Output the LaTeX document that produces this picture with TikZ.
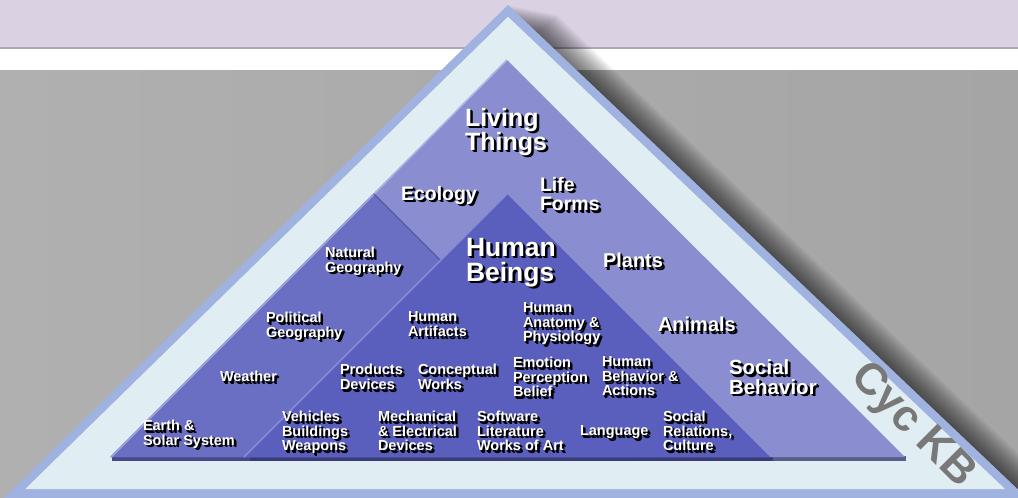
\documentclass[tikz,border=0pt]{standalone}
\usepackage{fontspec}
\setmainfont{Liberation Sans}
\definecolor{lav}{HTML}{DAD2E2}
\definecolor{sepc}{HTML}{AFA6B5}
\definecolor{grayA}{HTML}{B0B0B0}
\definecolor{grayB}{HTML}{A5A5A5}
\definecolor{peri}{HTML}{A0B2E0}
\definecolor{lightb}{HTML}{E0EEF3}
\definecolor{ltc}{HTML}{8A8ED0}
\definecolor{ngc}{HTML}{6B6FC4}
\definecolor{hbc}{HTML}{5A5EBC}
\definecolor{lthl}{HTML}{AEB2E3}
\definecolor{nghl}{HTML}{9CA0DB}
\definecolor{hbhl}{HTML}{858AD4}
\definecolor{ngdk}{HTML}{5457A8}
\definecolor{shNG}{HTML}{46488A}
\definecolor{shHB}{HTML}{3A3C7A}
\definecolor{shLT}{HTML}{5A5C8C}
\definecolor{cycc}{HTML}{787878}
\newcommand\lab[6]{%
  \node[lbl, text=black, xshift=2.6pt, yshift=-2.6pt, font=\bfseries\fontsize{#4}{#5}\selectfont] (#1t) at (#2,#3) {#6};
  \node[lbl, text=black, xshift=1.5pt, yshift=-1.5pt, font=\bfseries\fontsize{#4}{#5}\selectfont] (#1s) at (#2,#3) {#6};
  \node[lbl, text=white, font=\bfseries\fontsize{#4}{#5}\selectfont] (#1) at (#2,#3) {#6};}
\begin{document}
\begin{tikzpicture}[x=1pt,y=-1pt,
  lbl/.style={anchor=north west, inner sep=0pt, outer sep=0pt, align=left}]
\useasboundingbox (0,0) rectangle (1018,498);
\clip (0,0) rectangle (1018,498);
% background bands
\fill[lav] (0,0) rectangle (1018,47);
\fill[sepc] (0,46.5) rectangle (1018,48.5);
\fill[white] (0,48.5) rectangle (1018,70);
\shade[left color=grayA, right color=grayB] (0,70) rectangle (1018,498);
% soft drop shadow of the pyramid (to the right)
\foreach \s in {3,6,...,48}{
  \begin{scope}[shift={(\s,0.2*\s)}]
  \fill[black, opacity=0.045] (508,5)--(-8.4,510)--(1039.6,510)--cycle;
  \end{scope}}
% outer frame
\fill[peri] (508,5)--(-8.4,510)--(1039.6,510)--cycle;
\fill[lightb] (508,16.8)--(25.3,489)--(1005,489)--cycle;
% bottom shadows of the inner pyramids
\fill[shNG] (112,456) rectangle (250,461);
\fill[shHB] (250,456) rectangle (773,461);
\fill[shLT] (773,456) rectangle (906,461);
% pyramids
\fill[ltc] (507,60)--(110,457)--(905,457)--cycle;
\fill[ngc] (374,194)--(111,457)--(637,457)--cycle;
\fill[hbc] (507,194)--(244,457)--(770,457)--cycle;
\draw[lthl, line width=1.6pt] (507,60)--(374,194);
\draw[nghl, line width=2pt] (374,194)--(111,457);
\draw[ngdk, line width=1.2pt] (374,194)--(440.5,260.5);
\draw[hbhl, line width=1.6pt] (507,194)--(244,457);
% labels
\lab{living}{465}{108}{25}{24}{Living\\Things}
\lab{ecology}{401}{186}{19.5}{19.5}{Ecology}
\lab{life}{540}{177}{19.5}{19.5}{Life\\Forms}
\lab{human}{466}{238}{26.5}{25}{Human\\Beings}
\lab{plants}{603}{253}{20}{20}{Plants}
\lab{animals}{658}{317}{20}{20}{Animals}
\lab{social}{729}{360}{20.5}{19.5}{Social\\Behavior}
\lab{natgeo}{325}{247}{14.5}{14.5}{Natural\\Geography}
\lab{polgeo}{266}{312}{14.5}{14.5}{Political\\Geography}
\lab{artif}{408}{312}{14.5}{14.5}{Human\\Artifacts}
\lab{anat}{523}{303}{14.5}{14.5}{Human\\Anatomy \&\\Physiology}
\lab{weather}{220}{371}{14.5}{14.5}{Weather}
\lab{prod}{340}{364}{14.5}{15}{Products\\Devices}
\lab{concept}{418}{364}{14.5}{15}{Conceptual\\Works}
\lab{emotion}{513}{357}{14.5}{14.5}{Emotion\\Perception\\Belief}
\lab{behav}{602}{357}{14.5}{14.5}{Human\\Behavior \&\\Actions}
\lab{earth}{143}{420}{14.5}{14.5}{Earth \&\\Solar System}
\lab{vehic}{282}{411}{14.5}{14.5}{Vehicles\\Buildings\\Weapons}
\lab{mech}{378}{411}{14.5}{14.5}{Mechanical\\\& Electrical\\Devices}
\lab{soft}{477}{411}{14.5}{14.5}{Software\\Literature\\Works of Art}
\lab{lang}{580}{426}{14.5}{14.5}{Language}
\lab{socrel}{663}{411}{14.5}{14.5}{Social\\Relations,\\Culture}
\node[text=cycc, rotate=-45, inner sep=0pt, font=\bfseries\fontsize{44}{44}\selectfont] (cyc) at (912,426) {Cyc KB};
\end{tikzpicture}
\end{document}
